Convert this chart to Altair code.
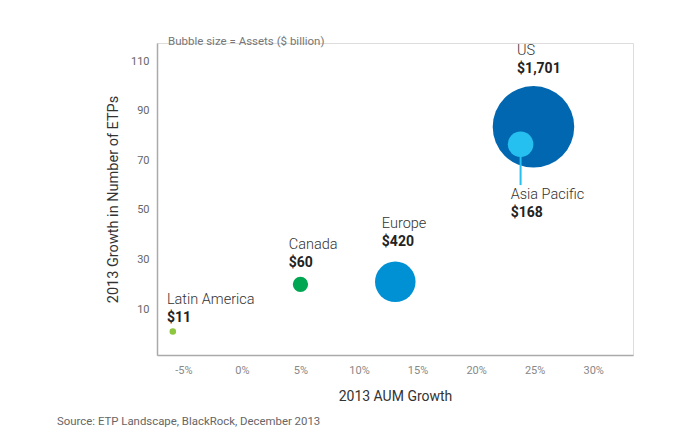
import altair as alt
import pandas as pd

regions = ["Latin America", "Canada", "Europe", "US", "Asia Pacific"]
aum_growth = [-5.9, 5.0, 13.1, 24.9, 23.8]          # %
etp_growth = [1.0, 20.0, 21.0, 83.5, 76.5]          # number of ETPs
assets = [11, 60, 420, 1701, 168]                   # $ billion
value_labels = ["$11", "$60", "$420", "$1,701", "$168"]
colors = ["#8dc63f", "#00a651", "#0091d4", "#0067b0", "#25c0f0"]
label_x = [-6.4, 4.0, 11.95, 23.5, 22.95]
label_y = [12.0, 34.2, 42.7, 112.4, 54.4]
leader_y_end = 60.0

x_ticks = [-5, 0, 5, 10, 15, 20, 25, 30]
y_ticks = [10, 30, 50, 70, 90, 110]

df = pd.DataFrame({
    "region": regions, "x": aum_growth, "y": etp_growth, "assets": assets,
    "value": value_labels, "color": colors, "lx": label_x, "ly": label_y,
})

FONT = "Roboto"
xs = alt.Scale(domain=[-7.25, 33.4], nice=False, zero=False)
ys = alt.Scale(domain=[-8.5, 117.3], nice=False, zero=False)
ss = alt.Scale(domain=[0, 1701], range=[0, 6650], zero=True)

base = alt.Chart(df)

bubbles_main = base.transform_filter("datum.region != 'Asia Pacific'").mark_circle(opacity=1).encode(
    x=alt.X("x:Q", scale=xs, axis=alt.Axis(
        values=x_ticks, labelExpr="datum.value + '%'", title="2013 AUM Growth",
        grid=False, ticks=False, domainColor="#aaaaaa", domainWidth=1.5,
        labelColor="#888888", labelFontSize=11, labelFont=FONT, labelPadding=9,
        titleFont=FONT, titleFontSize=14, titleFontWeight="normal", titleColor="#333333",
        titlePadding=14)),
    y=alt.Y("y:Q", scale=ys, axis=alt.Axis(
        values=y_ticks, title="2013 Growth in Number of ETPs",
        grid=False, ticks=False, domainColor="#aaaaaa", domainWidth=1.5,
        labelColor="#666666", labelFontSize=11, labelFont=FONT, labelPadding=8,
        titleFont=FONT, titleFontSize=14.5, titleFontWeight="normal", titleColor="#333333",
        titlePadding=10)),
    size=alt.Size("assets:Q", scale=ss, legend=None),
    color=alt.Color("color:N", scale=None),
)

leader = base.transform_filter("datum.region == 'Asia Pacific'").transform_calculate(
    y2=str(leader_y_end)).mark_rule(color="#25c0f0", strokeWidth=2).encode(
    x=alt.X("x:Q", scale=xs), y=alt.Y("y:Q", scale=ys), y2="y2:Q")

bubble_ap = base.transform_filter("datum.region == 'Asia Pacific'").mark_circle(opacity=1).encode(
    x=alt.X("x:Q", scale=xs), y=alt.Y("y:Q", scale=ys),
    size=alt.Size("assets:Q", scale=ss, legend=None),
    color=alt.Color("color:N", scale=None),
)

names = base.mark_text(align="left", baseline="alphabetic", font=FONT, fontSize=14.5,
                       fontWeight=300, color="#333333").encode(
    x=alt.X("lx:Q", scale=xs), y=alt.Y("ly:Q", scale=ys), text="region:N")

vals = base.mark_text(align="left", baseline="alphabetic", font=FONT, fontSize=14,
                      fontWeight="bold", color="#222222", dy=18).encode(
    x=alt.X("lx:Q", scale=xs), y=alt.Y("ly:Q", scale=ys), text="value:N")

note = alt.Chart(pd.DataFrame({"t": ["Bubble size = Assets ($ billion)"]})).mark_text(
    align="left", baseline="middle", font=FONT, fontSize=11.5, color="#777777").encode(
    x=alt.value(11), y=alt.value(-1), text="t:N")

source = alt.Chart(pd.DataFrame({"t": ["Source: ETP Landscape, BlackRock, December 2013"]})).mark_text(
    align="left", baseline="middle", font=FONT, fontSize=11.4, color="#666666").encode(
    x=alt.value(-100), y=alt.value(379), text="t:N")

chart = alt.layer(bubbles_main, leader, bubble_ap, names, vals, note, source).properties(
    width=476, height=312,
    padding={"left": 149, "top": 35, "right": 40, "bottom": 84},
    autosize="none",
).configure_view(stroke=None).configure(background="white")

chart.save("out.html", embed_options={"renderer": "svg", "actions": False})
